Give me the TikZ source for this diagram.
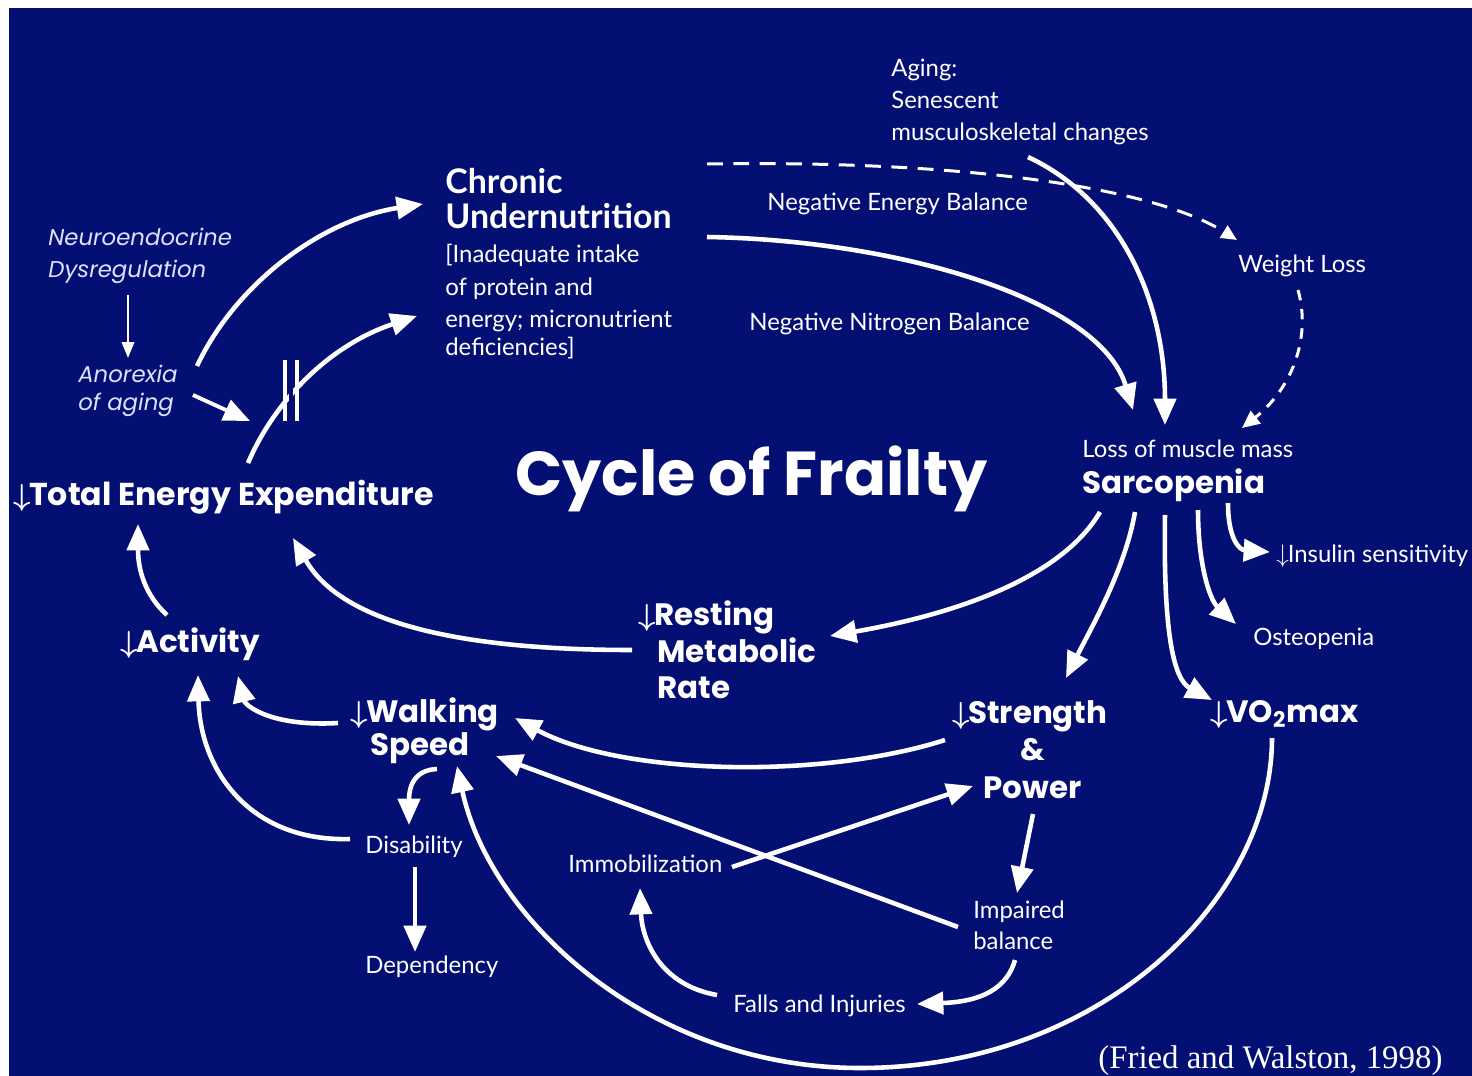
\documentclass[tikz,border=0pt]{standalone}
\usepackage{fontspec}
\setmainfont{Lato}
\newfontfamily\gill{Lato}
\newfontfamily\fut{Poppins}
\newfontfamily\tms{Liberation Serif}
\usetikzlibrary{arrows.meta}
\definecolor{bgblue}{RGB}{4,15,115}
\definecolor{lblue}{RGB}{220,226,255}
\newcommand{\myarr}{$\downarrow$\kern-0.05em}
\newcommand{\myboldarr}{{\boldmath$\downarrow$}\kern-0.05em}
\tikzset{
  lab/.style={text=white, inner sep=0pt, anchor=base west, font=\gill\fontsize{13.6}{15}\selectfont},
  boldlab/.style={text=white, inner sep=0pt, anchor=base west, font=\fut\bfseries\fontsize{17.6}{20}\selectfont},
  chrlab/.style={text=white, inner sep=0pt, anchor=base west, font=\gill\bfseries\fontsize{19.3}{21}\selectfont},
  itlab/.style={text=lblue, inner sep=0pt, anchor=base west, font=\fut\itshape\fontsize{13}{15}\selectfont},
  titlelab/.style={text=white, inner sep=0pt, anchor=base west, font=\fut\bfseries\fontsize{35.3}{38}\selectfont},
  citelab/.style={text=white, inner sep=0pt, anchor=base west, font=\tms\fontsize{18.7}{20}\selectfont},
  conn/.style={draw=white, line width=2.6pt, -{Triangle[length=15pt,width=12.5pt]}},
  thinconn/.style={draw=white, line width=1.3pt, -{Triangle[length=9pt,width=7pt]}},
  dconn/.style={draw=white, line width=1.7pt, dash pattern=on 9pt off 6pt, -{Triangle[length=9pt,width=8pt]}},
  dconnb/.style={draw=white, line width=1.7pt, dash pattern=on 6pt off 5pt, -{Triangle[length=10pt,width=9pt]}},
}
\begin{document}
\begin{tikzpicture}[x=0.02cm,y=-0.02cm]
\useasboundingbox (0,0) rectangle (1472,1076);
\fill[white] (0,0) rectangle (1472,1076);
\fill[bgblue] (9,8) rectangle (1472,1076);

% ---------- texts ----------
\node[lab] (aging1) at (891,76) {Aging:};
\node[lab] (aging2) at (891,108) {Senescent};
\node[lab] (aging3) at (891,140) {musculoskeletal changes};
\node[lab] (neb) at (767,210) {Negative Energy Balance};
\node[lab] (nnb) at (749,330) {Negative Nitrogen Balance};
\node[lab] (wl) at (1238,272) {Weight Loss};
\node[lab] (lmm) at (1082,457) {Loss of muscle mass};
\node[boldlab] (sarc) at (1082,493) {Sarcopenia};
\node[lab] (ins) at (1276,562) {\myarr Insulin sensitivity};
\node[lab] (ost) at (1253,645) {Osteopenia};
\node[boldlab] (vo2) at (1210,722) {\myboldarr VO\textsubscript{2}max};
\node[boldlab] (str) at (952,723) {\myboldarr Strength};
\node[boldlab, anchor=base] (amp) at (1033,760) {\&};
\node[boldlab] (pow) at (983,798) {Power};
\node[lab] (imp1) at (973,918) {Impaired};
\node[lab] (imp2) at (973,949) {balance};
\node[lab] (falls) at (733,1012) {Falls and Injuries};
\node[lab] (immob) at (568,872) {Immobilization};
\node[lab] (disab) at (365,853) {Disability};
\node[lab] (dep) at (365,973) {Dependency};
\node[boldlab] (walk1) at (350,722) {\myboldarr Walking};
\node[boldlab] (walk2) at (370,755) {Speed};
\node[boldlab] (act) at (120,652) {\myboldarr Activity};
\node[boldlab] (rest1) at (638,625) {\myboldarr Resting};
\node[boldlab] (rest2) at (657,662) {Metabolic};
\node[boldlab] (rest3) at (657,698) {Rate};
\node[boldlab, font=\fut\bfseries\fontsize{18}{20}\selectfont] (tee) at (13,505) {\myboldarr Total Energy Expenditure};
\node[itlab] (neuro1) at (48,245) {Neuroendocrine};
\node[itlab] (neuro2) at (48,277) {Dysregulation};
\node[itlab] (anor1) at (78,382) {Anorexia};
\node[itlab] (anor2) at (78,410) {of aging};
\node[chrlab] (chr1) at (445,193) {Chronic};
\node[chrlab] (chr2) at (445,228) {Undernutrition};
\node[lab] (chr3) at (445,262) {[Inadequate intake};
\node[lab] (chr4) at (445,295) {of protein and};
\node[lab] (chr5) at (445,327) {energy; micronutrient};
\node[lab] (chr6) at (445,355) {deficiencies]};
\node[titlelab] (title) at (515,495) {Cycle of Frailty};
\node[citelab] (cite) at (1098,1068) {(Fried and Walston, 1998)};

% ---------- ports ----------
\coordinate (anorUp) at (197,366);
\coordinate (chrInA) at (423,204);
\coordinate (teeUp) at (248,463);
\coordinate (chrInB) at (417,316);
\coordinate (anorRight) at (193,395);
\coordinate (breakIn) at (250,421);
\coordinate (neuroDown) at (128,295);
\coordinate (anorTop) at (128,358);
\coordinate (actUp) at (167,615);
\coordinate (teeInAct) at (138,524);
\coordinate (walkLeft) at (338,723);
\coordinate (actInWalk) at (238,676);
\coordinate (disLeft) at (350,839);
\coordinate (actInDis) at (198,675);
\coordinate (walkDown) at (437,769);
\coordinate (disTop) at (409,825);
\coordinate (disDown) at (415,867);
\coordinate (depTop) at (415,952);
\coordinate (vo2Down) at (1272,738);
\coordinate (loopBottom) at (860,1068);
\coordinate (walkInVo2) at (457,766);
\coordinate (strLeft) at (945,740);
\coordinate (walkInStr) at (515,718);
\coordinate (impLeft) at (958,927);
\coordinate (walkInImp) at (496,756);
\coordinate (immRight) at (732,867);
\coordinate (powIn) at (973,786);
\coordinate (powDown) at (1033,814);
\coordinate (impTop) at (1017,893);
\coordinate (impDown) at (1015,960);
\coordinate (fallsIn) at (917,1004);
\coordinate (fallsLeft) at (717,995);
\coordinate (immIn) at (640,888);
\coordinate (restLeft) at (632,650);
\coordinate (teeInRest) at (293,538);
\coordinate (sarcA) at (1100,512);
\coordinate (restIn) at (830,636);
\coordinate (sarcB) at (1135,512);
\coordinate (strIn) at (1066,678);
\coordinate (sarcC) at (1165,515);
\coordinate (vo2In) at (1212,700);
\coordinate (sarcD) at (1198,510);
\coordinate (ostIn) at (1236,624);
\coordinate (sarcE) at (1228,503);
\coordinate (insIn) at (1270,552);
\coordinate (agingDown) at (1028,157);
\coordinate (sarcInAging) at (1165,425);
\coordinate (chrRight) at (707,237);
\coordinate (sarcInChr) at (1133,410);
\coordinate (chrRightTop) at (707,164);
\coordinate (wlIn) at (1237,240);
\coordinate (wlDown) at (1298,290);
\coordinate (sarcInWl) at (1242,428);

% ---------- connectors ----------
\draw[conn] (anorUp) .. controls (235,285) and (320,220) .. (chrInA);
\draw[conn] (teeUp) .. controls (275,400) and (330,345) .. (chrInB);
\draw[bgblue, line width=2.4pt] (291,362) -- (291,420);
\draw[white, line width=2.8pt] (285,360) -- (285,421);
\draw[white, line width=2.8pt] (297,360) -- (297,421);
\draw[conn, line width=2.2pt] (anorRight) -- (breakIn);
\draw[thinconn] (neuroDown) -- (anorTop);

\draw[conn] (actUp) .. controls (145,595) and (138,570) .. (teeInAct);
\draw[conn] (walkLeft) .. controls (270,727) and (245,705) .. (actInWalk);
\draw[conn] (disLeft) .. controls (250,842) and (200,770) .. (actInDis);
\draw[conn] (walkDown) .. controls (415,770) and (409,785) .. (disTop);
\draw[conn] (disDown) -- (depTop);
\draw[conn] (vo2Down) .. controls (1272,900) and (1100,1068) .. (loopBottom)
   .. controls (650,1068) and (490,920) .. (walkInVo2);
\draw[conn] (strLeft) .. controls (820,780) and (620,775) .. (walkInStr);
\draw[conn] (impLeft) -- (walkInImp);
\draw[conn] (immRight) -- (powIn);
\draw[conn] (powDown) -- (impTop);
\draw[conn] (impDown) .. controls (1005,995) and (970,1002) .. (fallsIn);
\draw[conn] (fallsLeft) .. controls (660,985) and (642,940) .. (immIn);
\draw[conn] (restLeft) .. controls (450,650) and (340,620) .. (teeInRest);
\draw[conn] (sarcA) .. controls (1060,580) and (950,615) .. (restIn);
\draw[conn] (sarcB) .. controls (1125,570) and (1090,630) .. (strIn);
\draw[conn] (sarcC) .. controls (1163,640) and (1175,680) .. (vo2In);
\draw[conn] (sarcD) .. controls (1198,565) and (1210,600) .. (ostIn);
\draw[conn] (sarcE) .. controls (1228,540) and (1240,550) .. (insIn);
\draw[conn] (agingDown) .. controls (1120,200) and (1165,300) .. (sarcInAging);
\draw[conn] (chrRight) .. controls (900,240) and (1100,300) .. (sarcInChr);
\draw[dconn] (chrRightTop) .. controls (950,160) and (1150,185) .. (wlIn);
\draw[dconnb] (wlDown) .. controls (1312,340) and (1290,390) .. (sarcInWl);
\end{tikzpicture}
\end{document}
